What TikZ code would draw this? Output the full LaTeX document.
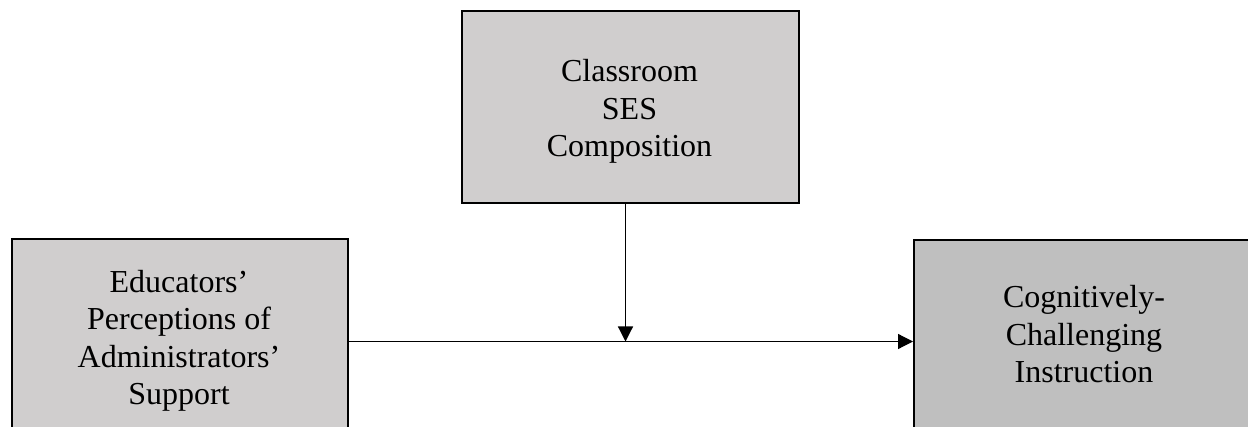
\documentclass[tikz,border=0pt]{standalone}
\usepackage{fontspec}
\setmainfont{Liberation Serif}
\usetikzlibrary{arrows.meta}
\definecolor{boxgray}{HTML}{D0CECE}
\definecolor{outgray}{HTML}{BFBFBF}
\begin{document}
\begin{tikzpicture}[x=1pt,y=-1pt,
  box/.style={draw=black, line width=2pt, anchor=north west, inner sep=0pt},
  lbl/.style={font=\fontsize{32}{37.5}\selectfont, align=center, inner sep=0pt},
  link/.style={line width=1.2pt, -{Triangle[length=15pt,width=15pt]}}]
\useasboundingbox (0,0) rectangle (1248,427);
\clip (0,0) rectangle (1248,427);
% variable boxes
\node[box, fill=boxgray, minimum width=337pt, minimum height=192pt] (ses) at (461,10) {};
\node[box, fill=boxgray, minimum width=336pt, minimum height=250pt] (edu) at (11,238) {};
\node[box, fill=outgray, minimum width=342pt, minimum height=250pt] (cci) at (913,238.7) {};
% labels
\node[lbl, anchor=base] (sesText) at (629.5,157) {Classroom\\SES\\Composition};
\node[lbl, anchor=base] (eduText) at (179,405) {Educators’\\Perceptions of\\Administrators’\\Support};
\node[lbl, anchor=base] (cciText) at (1084,383) {Cognitively-\\Challenging\\Instruction};
% paths
\coordinate (meet) at (625.5,341.5);
\draw[link] (edu.east |- meet) -- (cci.west |- meet);
\draw[link] (ses.south -| meet) -- (meet);
\end{tikzpicture}
\end{document}
